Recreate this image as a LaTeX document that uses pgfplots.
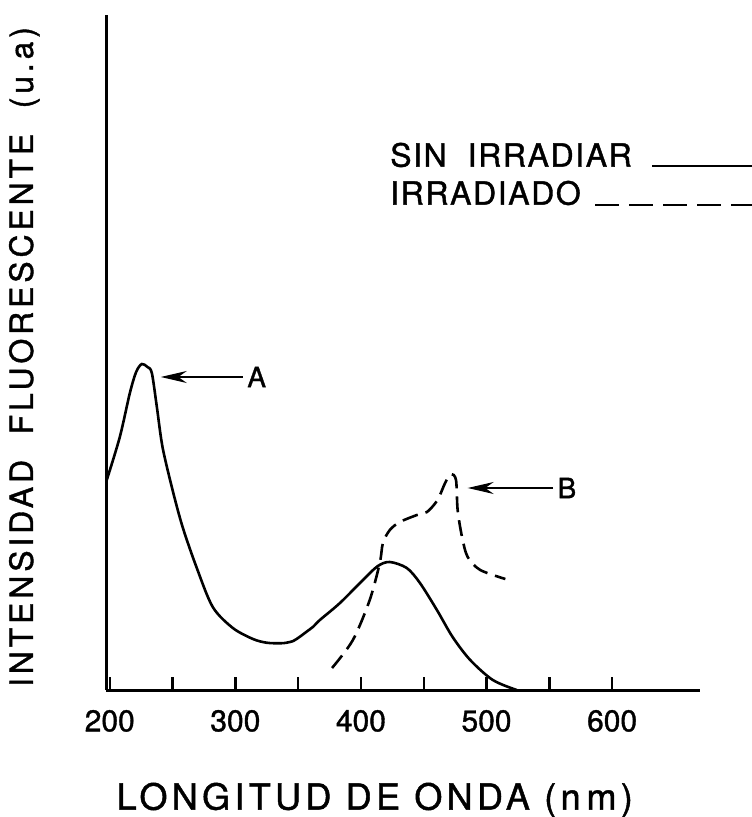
\documentclass[border=0pt]{standalone}
\usepackage{pgfplots}
\pgfplotsset{compat=1.18}
\usepackage{fontspec}
\setmainfont{TeX Gyre Heros}[FakeBold=1.2]
\newfontfamily\legfont{TeX Gyre Heros}[LetterSpace=5, FakeBold=1.2]
\newfontfamily\ylabfont{TeX Gyre Heros}[LetterSpace=12, FakeBold=1.2]
\newfontfamily\xlabfont{TeX Gyre Heros}[LetterSpace=12, FakeBold=1.2]
\usetikzlibrary{arrows.meta}

\begin{document}
\begin{tikzpicture}
\useasboundingbox (-53pt,-63.5pt) rectangle (322.5pt,345pt);
\begin{axis}[
    scale only axis,
    width=297pt, height=337.5pt,
    xmin=197, xmax=670, ymin=0, ymax=675,
    axis lines=left,
    axis line style={line width=1.5pt, -},
    xtick={200,250,...,600},
    xticklabels={200,,300,,400,,500,,600},
    ytick=\empty,
    tick align=inside,
    major tick length=6.5pt,
    tick style={line width=1.2pt, black},
    x tick label style={font=\fontsize{15}{15}\selectfont, yshift=-6.5pt},
    clip=false,
]

% sin irradiar
\addplot[black, line width=1.3pt, smooth, tension=0.5] coordinates {
    (197.6,210) (208,253) (216,297) (221,318) (225.5,326) (230,323)
    (233.5,317) (237.5,283) (242,243) (250,200) (258,163) (269,123)
    (282,83) (298,62) (314,51) (324.8,47.3) (335.5,46.7) (340.8,47.3)
    (346.1,49) (351.4,53.3) (356.7,58.3) (362,63.3) (367.3,70)
    (383.3,87) (401.6,110) (413.5,124) (423,128)
    (436.5,122) (447,107) (460.5,80) (473,53) (487,30) (505,10) (524,0)
};

% irradiado
\addplot[black, line width=1.3pt, smooth, tension=0.5,
    dash pattern=on 8pt off 4pt] coordinates {
    (377,22) (393.6,50) (407,90) (415,127) (417.5,147) (423,160)
    (431,168) (444.6,175) (452.6,178) (461,190) (467,207) (471.7,216)
    (475.7,210) (477,180) (480.5,153) (485,133) (495,120) (515,111)
};

% arrows A and B
\draw[line width=0.7pt, -{Stealth[length=13pt, width=6pt]}]
    (axis cs:306,313) -- (axis cs:240.6,313);
\node[font=\fontsize{14}{14}\selectfont] at (axis cs:317,313) {A};
\draw[line width=0.7pt, -{Stealth[length=13pt, width=6pt]}]
    (axis cs:553,202) -- (axis cs:485,202);
\node[font=\fontsize{14}{14}\selectfont] at (axis cs:564,202) {B};

% legend
\node[anchor=west, font=\legfont\fontsize{16}{16}\selectfont, inner sep=0pt]
    at (axis cs:423,535) {SIN\ \ IRRADIAR};
\draw[line width=1.3pt] (axis cs:632,524) -- (axis cs:711,524);
\node[anchor=west, font=\legfont\fontsize{16}{16}\selectfont, inner sep=0pt]
    at (axis cs:423,497) {IRRADIADO};
\draw[line width=1.3pt, dash pattern=on 12pt off 5pt]
    (axis cs:586.5,485) -- (axis cs:711,485);

% axis titles
\node[rotate=90, font=\ylabfont\fontsize{16}{16}\selectfont]
    at (axis cs:132,333) {INTENSIDAD\ \ FLUORESCENTE\ \ (u.a)};
\node[font=\xlabfont\fontsize{18}{18}\selectfont]
    at (axis cs:411,-110) {LONGITUD DE ONDA (n\,m)};

\end{axis}
\end{tikzpicture}
\end{document}
